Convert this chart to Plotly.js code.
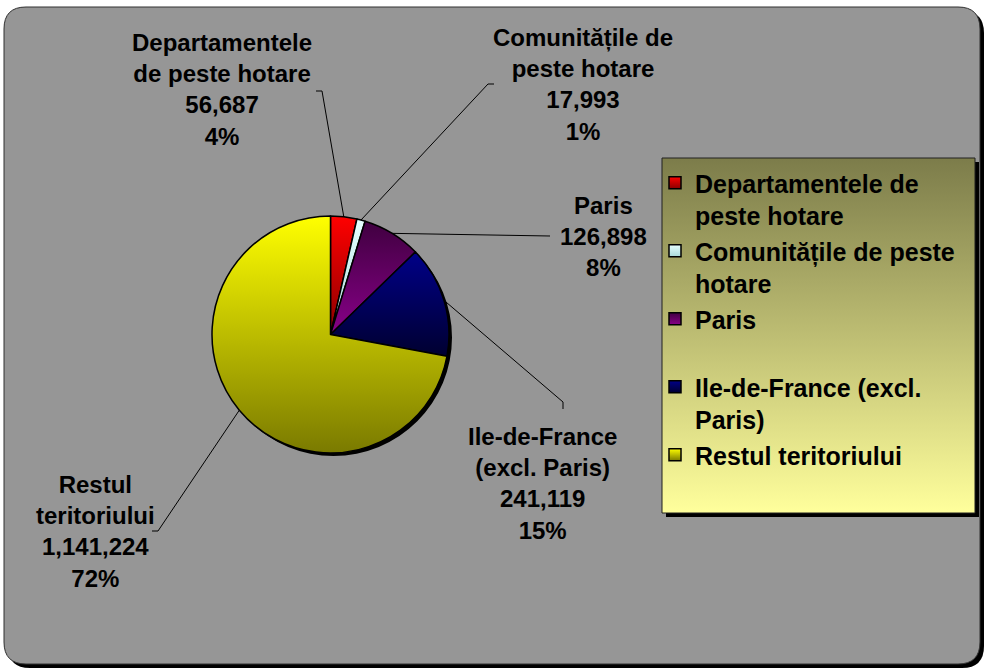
<!DOCTYPE html>
<html>
<head>
<meta charset="utf-8">
<script src="https://cdn.plot.ly/plotly-3.0.1.min.js"></script>
<style>
  html, body { margin: 0; padding: 0; background: #ffffff; }
  #chart { width: 986px; height: 669px; }
</style>
</head>
<body>
<div id="chart"></div>
<script>
// ---- data ----
const categories = [
  "Departamentele de peste hotare",
  "Comunitățile de peste hotare",
  "Paris",
  "Ile-de-France (excl. Paris)",
  "Restul teritoriului"
];
const legendLabels = [
  "Departamentele de<br>peste hotare",
  "Comunitățile de peste<br>hotare",
  "Paris<br> ",
  "Ile-de-France (excl.<br>Paris)",
  "Restul teritoriului"
];
const sliceLabelLines = [
  ["Departamentele", "de peste hotare"],
  ["Comunitățile de", "peste hotare"],
  ["Paris"],
  ["Ile-de-France", "(excl. Paris)"],
  ["Restul", "teritoriului"]
];
const values = [56687, 17993, 126898, 241119, 1141224];

// ---- styling ----
const sliceColors = ["#D00000", "#CCF2F2", "#600060", "#000066", "#C0C000"];
const gradTop    = ["#FF0000", "#E6FFFF", "#400040", "#000088", "#FFFF00"];
const gradBottom = ["#8A0000", "#A8D8D8", "#880088", "#000030", "#7A7A00"];

const W = 986, H = 669;
const CX = 330.5, CY = 334.5, R = 118.5;
const px = x => x / W;
const py = y => 1 - y / H;

function roundRect(x0, y0, x1, y1, r) {
  const p = (x, y) => px(x) + "," + py(y);
  return "M" + p(x0 + r, y0) + " L" + p(x1 - r, y0) + " Q" + p(x1, y0) + " " + p(x1, y0 + r) +
         " L" + p(x1, y1 - r) + " Q" + p(x1, y1) + " " + p(x1 - r, y1) +
         " L" + p(x0 + r, y1) + " Q" + p(x0, y1) + " " + p(x0, y1 - r) +
         " L" + p(x0, y0 + r) + " Q" + p(x0, y0) + " " + p(x0 + r, y0) + " Z";
}
function rectPath(x0, y0, x1, y1) {
  const p = (x, y) => px(x) + "," + py(y);
  return "M" + p(x0, y0) + " L" + p(x1, y0) + " L" + p(x1, y1) + " L" + p(x0, y1) + " Z";
}

const total = values.reduce((a, b) => a + b, 0);

// label placement (layout choices)
const labelCenters = [[222, 90], [583, 84], [603, 236], [542, 483], [95, 531]];
const leaderEnds = [
  [[322, 91], [316, 91]],
  [[488, 84], [494, 84]],
  [[550, 236]],
  [[563, 402], [563, 409]],
  [[158, 531], [152, 531]]
];

const shapes = [];
// background shadow + background
shapes.push({type: "path", xref: "paper", yref: "paper", layer: "below",
  path: roundRect(8, 11, 984, 668, 22), fillcolor: "#000000", line: {width: 0}});
shapes.push({type: "path", xref: "paper", yref: "paper", layer: "below",
  path: roundRect(4, 7, 980, 664, 22), fillcolor: "#969696", line: {color: "#303030", width: 1}});
// pie shadow
shapes.push({type: "circle", xref: "paper", yref: "paper", layer: "below",
  x0: px(CX - R + 3), x1: px(CX + R + 3), y0: py(CY + R + 3), y1: py(CY - R + 3),
  fillcolor: "#000000", line: {width: 0}});
// legend box shadow + box
shapes.push({type: "path", xref: "paper", yref: "paper", layer: "below",
  path: rectPath(666, 162, 979, 517), fillcolor: "#000000", line: {width: 0}});
const legendBoxIndex = shapes.length;
shapes.push({type: "path", xref: "paper", yref: "paper", layer: "below",
  path: rectPath(662, 158, 975, 513), fillcolor: "#C0C078", line: {color: "#202020", width: 1}});

// leader lines from slice mid-angle edge points
const annotations = [];
let cum = 0;
values.forEach((v, i) => {
  const mid = (cum + v / 2) / total * 2 * Math.PI;
  cum += v;
  const sx = CX + R * Math.sin(mid);
  const sy = CY - R * Math.cos(mid);
  let d = "M" + px(sx) + "," + py(sy);
  leaderEnds[i].forEach(pt => { d += " L" + px(pt[0]) + "," + py(pt[1]); });
  shapes.push({type: "path", xref: "paper", yref: "paper", layer: "above",
    path: d, line: {color: "#000000", width: 1}});
  const pct = Math.round(v / total * 100) + "%";
  const txt = sliceLabelLines[i].concat([v.toLocaleString("en-US"), pct]).join("<br>");
  annotations.push({xref: "paper", yref: "paper", x: px(labelCenters[i][0]), y: py(labelCenters[i][1]),
    xanchor: "center", yanchor: "middle", align: "center", showarrow: false, text: txt,
    font: {family: "Arial, 'Liberation Sans', sans-serif", size: 24, color: "#000000", weight: 700}});
});

const trace = {
  type: "pie",
  labels: legendLabels,
  values: values,
  sort: false,
  direction: "clockwise",
  rotation: 0,
  textinfo: "none",
  hoverinfo: "label+value+percent",
  marker: {colors: sliceColors, line: {color: "#000000", width: 1.5}},
  domain: {x: [px(CX - R), px(CX + R)], y: [py(CY + R), py(CY - R)]}
};

const layout = {
  width: W, height: H,
  margin: {l: 0, r: 0, t: 0, b: 0, autoexpand: false},
  paper_bgcolor: "#ffffff",
  plot_bgcolor: "rgba(0,0,0,0)",
  showlegend: true,
  legend: {
    x: px(655), y: py(160), xanchor: "left", yanchor: "top",
    bgcolor: "rgba(0,0,0,0)", borderwidth: 0, valign: "top",
    font: {family: "Arial, 'Liberation Sans', sans-serif", size: 25, color: "#000000", weight: 700}
  },
  shapes: shapes,
  annotations: annotations
};

Plotly.newPlot("chart", [trace], layout, {displayModeBar: false, staticPlot: true}).then(() => {
  const NS = "http://www.w3.org/2000/svg";
  const svg = document.querySelector("#chart .main-svg");
  let defs = svg.querySelector("defs");
  if (!defs) { defs = document.createElementNS(NS, "defs"); svg.insertBefore(defs, svg.firstChild); }
  function addGrad(id, c0, c1) {
    const g = document.createElementNS(NS, "linearGradient");
    g.setAttribute("id", id);
    g.setAttribute("x1", "0"); g.setAttribute("y1", "0");
    g.setAttribute("x2", "0"); g.setAttribute("y2", "1");
    [[0, c0], [1, c1]].forEach(s => {
      const st = document.createElementNS(NS, "stop");
      st.setAttribute("offset", s[0]);
      st.setAttribute("stop-color", s[1]);
      g.appendChild(st);
    });
    defs.appendChild(g);
  }
  gradTop.forEach((c, i) => addGrad("sliceGrad" + i, c, gradBottom[i]));
  addGrad("legendBgGrad", "#7C7C4A", "#FFFF9C");
  document.querySelectorAll("#chart .pielayer .slice path.surface").forEach((p, i) => {
    p.style.fill = "url(#sliceGrad" + i + ")";
  });
  document.querySelectorAll("#chart .legend .traces").forEach((t, i) => {
    const p = t.querySelector("path.legendpie");
    if (p) p.style.fill = "url(#sliceGrad" + i + ")";
  });
  const lb = document.querySelector('#chart .layer-below .shapelayer path[data-index="' + legendBoxIndex + '"]');
  if (lb) lb.style.fill = "url(#legendBgGrad)";
});
</script>
</body>
</html>
